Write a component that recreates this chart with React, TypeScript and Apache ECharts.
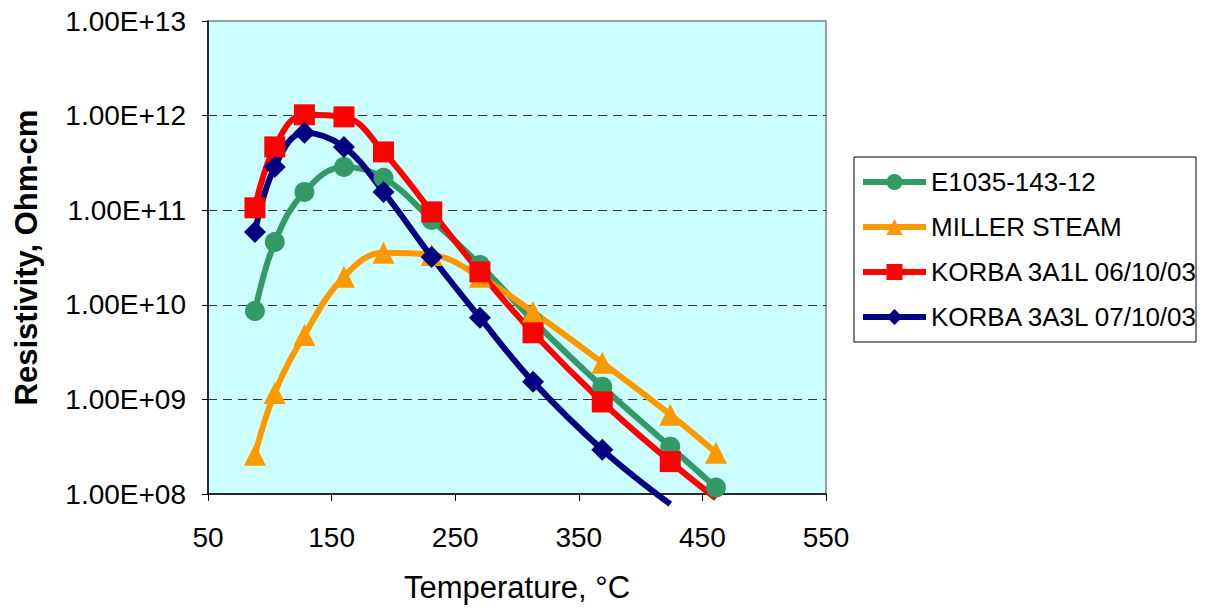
import React, { useEffect, useRef } from "react";
import * as echarts from "echarts";

const temps = [88, 104, 128, 160, 192, 231, 270, 313, 369, 424, 461];
const seriesNames = ["E1035-143-12", "MILLER STEAM", "KORBA 3A1L 06/10/03", "KORBA 3A3L 07/10/03"];
const greenVals = [8.6e9, 4.6e10, 1.56e11, 2.87e11, 2.2e11, 7.9e10, 2.64e10, 6.8e9, 1.36e9, 3.16e8, 1.17e8];
const orangeVals = [2.6e8, 1.17e9, 4.8e9, 1.98e10, 3.54e10, 3.37e10, 1.98e10, 8.4e9, 2.44e9, 6.9e8, 2.73e8];
const redVals = [1.06e11, 4.67e11, 1.02e12, 9.7e11, 4.13e11, 9.6e10, 2.23e10, 5.06e9, 9.4e8, 2.2e8, 9e7];
const navyVals = [5.9e10, 2.87e11, 6.6e11, 4.67e11, 1.56e11, 3.2e10, 7.3e9, 1.54e9, 2.94e8, 7.8e7];
const xTicks = [50, 150, 250, 350, 450, 550];
const yMin = 1e8;
const yMax = 1e13;

const FONT = "Liberation Sans, Arial, sans-serif";

function pairs(vals: number[]) {
  return vals.map((v, i) => {
    const item: any = { value: [temps[i], v] };
    if (v < yMin) item.symbol = "none";
    return item;
  });
}

export default function App() {
  const ref = useRef<HTMLDivElement>(null);
  useEffect(() => {
    if (!ref.current) return;
    const chart = echarts.init(ref.current, undefined, { renderer: "svg" });
    const mk = (name: string, vals: number[], color: string, symbol: string, size: number) => ({
      name,
      type: "line",
      data: pairs(vals),
      smooth: 0.4,
      clip: false,
      symbol,
      symbolSize: size,
      showAllSymbol: true,
      lineStyle: { color, width: 6 },
      itemStyle: { color, opacity: 1 },
      emphasis: { disabled: true },
    });
    chart.setOption({
      animation: false,
      backgroundColor: "#ffffff",
      textStyle: { fontFamily: FONT },
      grid: {
        left: 208,
        top: 21,
        right: 388,
        bottom: 114,
        show: true,
        backgroundColor: "#CCFFFF",
        borderColor: "#808080",
        borderWidth: 1.5,
      },
      legend: {
        orient: "vertical",
        left: 860,
        top: 169,
        itemWidth: 63,
        itemHeight: 20,
        itemGap: 19,
        padding: 0,
        lineStyle: { width: 6 },
        textStyle: { fontFamily: FONT, fontSize: 26, color: "#000" },
        data: seriesNames,
      },
      graphic: [
        {
          type: "rect",
          shape: { x: 854, y: 157, width: 342, height: 185 },
          style: { fill: "none", stroke: "#000", lineWidth: 1 },
          z: 0,
        },
      ],
      xAxis: {
        type: "value",
        min: 50,
        max: 550,
        interval: 100,
        name: "Temperature, °C",
        nameLocation: "middle",
        nameGap: 78,
        nameTextStyle: { fontFamily: FONT, fontSize: 31, color: "#000" },
        axisLine: { show: true, lineStyle: { color: "#000", width: 1.5 } },
        axisTick: { show: true, length: 7, lineStyle: { color: "#000", width: 1 } },
        axisLabel: {
          fontFamily: FONT,
          fontSize: 28,
          color: "#000",
          margin: 29,
          formatter: (v: number) => (xTicks.includes(v) ? String(v) : ""),
        },
        splitLine: { show: false },
      },
      yAxis: {
        type: "log",
        logBase: 10,
        min: yMin,
        max: yMax,
        name: "Resistivity, Ohm-cm",
        nameLocation: "middle",
        nameGap: 166,
        nameRotate: 90,
        nameTextStyle: { fontFamily: FONT, fontSize: 31, fontWeight: "bold", color: "#000" },
        axisLine: { show: true, lineStyle: { color: "#000", width: 1.5 } },
        axisTick: { show: true, length: 6, lineStyle: { color: "#000", width: 1 } },
        axisLabel: {
          fontFamily: FONT,
          fontSize: 28,
          color: "#000",
          margin: 22,
          formatter: (v: number) => {
            const e = Math.round(Math.log10(v));
            return "1.00E+" + (e < 10 ? "0" : "") + e;
          },
        },
        splitLine: {
          show: true,
          showMinLine: false,
          showMaxLine: false,
          lineStyle: { color: "#333", width: 1, type: [9, 6] },
        },
        minorTick: { show: false },
      },
      series: [
        mk(seriesNames[0], greenVals, "#339966", "circle", 20),
        mk(seriesNames[1], orangeVals, "#FF9900", "triangle", 22),
        mk(seriesNames[2], redVals, "#FF0000", "rect", 21),
        mk(seriesNames[3], navyVals, "#000080", "diamond", 22),
      ],
    });
    return () => chart.dispose();
  }, []);
  return <div ref={ref} style={{ width: 1214, height: 608, position: "absolute", left: 0, top: 0 }} />;
}
